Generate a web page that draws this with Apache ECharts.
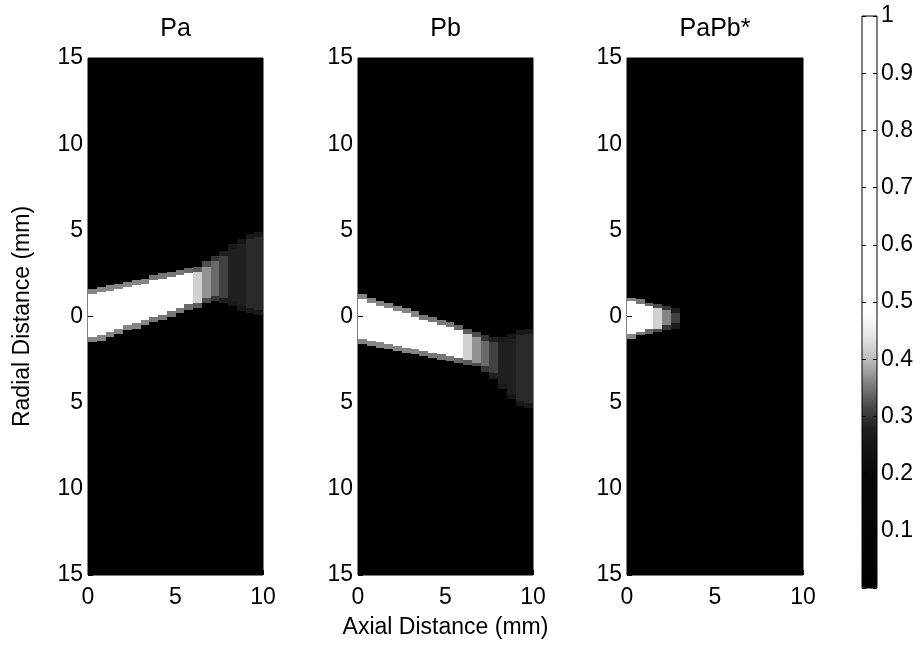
<!DOCTYPE html>
<html>
<head>
<meta charset="utf-8">
<script src="https://cdn.jsdelivr.net/npm/echarts@6/dist/echarts.min.js"></script>
<style>
  html, body { margin: 0; padding: 0; background: #fff; }
  #chart { width: 923px; height: 645px; }
</style>
</head>
<body>
<div id="chart"></div>
<script>
// Axial cell centres (mm); each column is 0.5 mm wide
const axialCols = [0.25, 0.75, 1.25, 1.75, 2.25, 2.75, 3.25, 3.75, 4.25, 4.75,
                   5.25, 5.75, 6.25, 6.75, 7.25, 7.75, 8.25, 8.75, 9.25, 9.75];

// Pa: beam centre (mm), core half-width (mm), core level, rim level per column
const paCentre = [0.02, 0.16, 0.30, 0.45, 0.59, 0.73, 0.87, 1.02, 1.16, 1.30,
                  1.45, 1.59, 1.73, 2.00, 2.20, 2.30, 2.40, 2.40, 2.50, 2.50];
const paHalf   = [1.24, 1.21, 1.18, 1.16, 1.13, 1.10, 1.07, 1.05, 1.02, 0.99,
                  0.96, 0.93, 0.90, 0.90, 1.00, 1.20, 1.50, 1.80, 2.00, 2.10];
const paLevel  = [1.00, 0.98, 0.95, 0.92, 0.88, 0.84, 0.80, 0.75, 0.70, 0.64,
                  0.58, 0.50, 0.42, 0.37, 0.34, 0.31, 0.28, 0.28, 0.29, 0.29];
const paRim    = [0.36, 0.36, 0.36, 0.36, 0.36, 0.36, 0.36, 0.35, 0.35, 0.35,
                  0.35, 0.34, 0.33, 0.32, 0.30, 0.28, 0.26, 0.25, 0.26, 0.26];

// Pb
const pbCentre = [-0.15, -0.28, -0.41, -0.54, -0.67, -0.80, -0.93, -1.06, -1.19, -1.32,
                  -1.45, -1.58, -1.75, -1.95, -2.15, -2.40, -2.70, -2.90, -3.00, -3.00];
const pbHalf   = [1.10, 1.08, 1.05, 1.02, 0.99, 0.96, 0.93, 0.90, 0.87, 0.84,
                  0.81, 0.78, 0.75, 0.70, 0.75, 0.90, 1.20, 1.60, 1.90, 2.00];
const pbLevel  = [1.00, 0.98, 0.95, 0.92, 0.88, 0.84, 0.80, 0.75, 0.70, 0.64,
                  0.58, 0.50, 0.42, 0.37, 0.34, 0.31, 0.28, 0.28, 0.29, 0.29];
const pbRim    = [0.36, 0.36, 0.36, 0.36, 0.36, 0.36, 0.36, 0.35, 0.35, 0.35,
                  0.35, 0.34, 0.33, 0.32, 0.30, 0.28, 0.26, 0.25, 0.26, 0.26];

// PaPb*
const abCentre = [-0.08, -0.08, -0.08, -0.10, -0.10, -0.10, 0, 0, 0, 0,
                  0, 0, 0, 0, 0, 0, 0, 0, 0, 0];
const abHalf   = [0.95, 0.80, 0.65, 0.55, 0.45, 0.30, 0, 0, 0, 0,
                  0, 0, 0, 0, 0, 0, 0, 0, 0, 0];
const abLevel  = [0.90, 0.75, 0.55, 0.42, 0.36, 0.31, 0, 0, 0, 0,
                  0, 0, 0, 0, 0, 0, 0, 0, 0, 0];
const abRim    = [0.36, 0.35, 0.34, 0.32, 0.30, 0.27, 0, 0, 0, 0,
                  0, 0, 0, 0, 0, 0, 0, 0, 0, 0];

const panelTitles = ['Pa', 'Pb', 'PaPb*'];
const colorbarTicks = [0.1, 0.2, 0.3, 0.4, 0.5, 0.6, 0.7, 0.8, 0.9, 1];

const COL_W = 0.5;   // axial cell width (mm)
const ROW_H = 0.1;   // radial cell height (mm)
// Radial cell centres from -15 to 15 mm
const radialRows = Array.from({ length: 300 }, (_, k) => +(-14.95 + ROW_H * k).toFixed(2));

function beamCells(centre, half, level, rim, rimWidth) {
  const cells = [];
  for (let j = 0; j < axialCols.length; j++) {
    if (!level[j]) continue;
    for (let k = 0; k < radialRows.length; k++) {
      const d = Math.abs(radialRows[k] - centre[j]);
      if (d <= half[j]) cells.push([axialCols[j], radialRows[k], level[j]]);
      else if (d <= half[j] + rimWidth) cells.push([axialCols[j], radialRows[k], rim[j]]);
    }
  }
  return cells;
}

// Grey ramp: black up to ~0.2, quick rise to white near 0.48
const greyStops = [[0, 0], [0.2, 0.03], [0.28, 0.12], [0.32, 0.3], [0.36, 0.52],
                   [0.4, 0.74], [0.44, 0.9], [0.48, 1], [1, 1]];
function greyAt(v) {
  for (let i = 1; i < greyStops.length; i++) {
    const [v0, g0] = greyStops[i - 1], [v1, g1] = greyStops[i];
    if (v <= v1) return g0 + (g1 - g0) * (v - v0) / (v1 - v0);
  }
  return 1;
}
const rampColors = Array.from({ length: 101 }, (_, i) => {
  const g = Math.round(greyAt(i / 100) * 255);
  return 'rgb(' + g + ',' + g + ',' + g + ')';
});

// One cell, snapped to whole pixels so neighbouring cells butt together cleanly
function renderCell(params, api) {
  const x = api.value(0), y = api.value(1);
  const p0 = api.coord([x - COL_W / 2, y + ROW_H / 2]);
  const p1 = api.coord([x + COL_W / 2, y - ROW_H / 2]);
  const x0 = Math.round(p0[0]), x1 = Math.round(p1[0]);
  const y0 = Math.round(p0[1]), y1 = Math.round(p1[1]);
  return {
    type: 'rect',
    shape: { x: x0, y: y0, width: x1 - x0, height: Math.max(y1 - y0, 0) },
    style: { fill: api.visual('color'), stroke: null }
  };
}

const FONT = "'Liberation Sans', Arial, Helvetica, sans-serif";
const FS = 23;
const TITLE_FS = 25;
const panelLeft = [88, 358, 627];
const panelWidth = [175, 175, 176];
const panelTop = 58, panelHeight = 517;

const grids = [], xAxes = [], yAxes = [], series = [], graphics = [];
const beams = [
  beamCells(paCentre, paHalf, paLevel, paRim, 0.3),
  beamCells(pbCentre, pbHalf, pbLevel, pbRim, 0.3),
  beamCells(abCentre, abHalf, abLevel, abRim, 0.25)
];

for (let i = 0; i < 3; i++) {
  grids.push({
    left: panelLeft[i], top: panelTop, width: panelWidth[i], height: panelHeight,
    show: true, backgroundColor: '#000', borderColor: '#000', borderWidth: 1,
    containLabel: false, outerBoundsMode: 'none', z: 0
  });
  const xAxis = {
    gridIndex: i, type: 'value', min: 0, max: 10, interval: 5, position: 'bottom',
    axisLine: { show: false, onZero: false }, splitLine: { show: false },
    axisTick: { show: true, inside: true, length: 5, lineStyle: { color: '#000' } },
    axisLabel: { color: '#000', fontSize: FS, fontFamily: FONT, margin: 11 },
    z: 5
  };
  if (i === 1) {
    Object.assign(xAxis, {
      name: 'Axial Distance (mm)', nameLocation: 'middle', nameGap: 41,
      nameTextStyle: { color: '#000', fontSize: FS, fontFamily: FONT }
    });
  }
  xAxes.push(xAxis);
  const yAxis = {
    gridIndex: i, type: 'value', min: -15, max: 15, interval: 5, position: 'left',
    axisLine: { show: false, onZero: false }, splitLine: { show: false },
    axisTick: { show: true, inside: true, length: 5, lineStyle: { color: '#000' } },
    axisLabel: { color: '#000', fontSize: FS, fontFamily: FONT, margin: 5,
                 formatter: v => String(Math.abs(v)) },
    z: 5
  };
  if (i === 0) {
    Object.assign(yAxis, {
      name: 'Radial Distance (mm)', nameLocation: 'middle', nameGap: 54,
      nameTextStyle: { color: '#000', fontSize: FS, fontFamily: FONT }
    });
  }
  yAxes.push(yAxis);
  series.push({
    type: 'custom', coordinateSystem: 'cartesian2d', xAxisIndex: i, yAxisIndex: i,
    dimensions: ['axial', 'radial', 'level'],
    data: beams[i], renderItem: renderCell, silent: true, z: 1
  });
  graphics.push({
    type: 'text', x: panelLeft[i] + panelWidth[i] / 2, y: 29,
    style: { text: panelTitles[i], font: TITLE_FS + 'px ' + FONT, fill: '#000',
             textAlign: 'center', textVerticalAlign: 'middle' }
  });
}

// Colour bar frame and tick labels
grids.push({
  left: 862, top: 16, width: 15, height: 572, show: true,
  backgroundColor: 'transparent', borderColor: '#000', borderWidth: 1,
  containLabel: false, outerBoundsMode: 'none', z: 5
});
xAxes.push({ gridIndex: 3, type: 'value', min: 0, max: 1, show: false });
yAxes.push({
  gridIndex: 3, type: 'value', min: 0, max: 1, interval: 0.1, position: 'right',
  axisLine: { show: false, onZero: false }, splitLine: { show: false },
  axisTick: { show: true, inside: true, length: 4, lineStyle: { color: '#000' } },
  axisLabel: { color: '#000', fontSize: FS, fontFamily: FONT, margin: 4,
               formatter: v => (colorbarTicks.some(t => Math.abs(t - v) < 1e-6) ? String(+v.toFixed(1)) : '') },
  z: 6
});
yAxes.push({
  gridIndex: 3, type: 'value', min: 0, max: 1, interval: 0.1, position: 'left',
  axisLine: { show: false, onZero: false }, splitLine: { show: false },
  axisTick: { show: true, inside: true, length: 4, lineStyle: { color: '#000' } },
  axisLabel: { show: false }, z: 6
});

const chart = echarts.init(document.getElementById('chart'), null, { renderer: 'canvas' });
chart.setOption({
  animation: false,
  backgroundColor: '#fff',
  textStyle: { fontFamily: FONT },
  grid: grids,
  xAxis: xAxes,
  yAxis: yAxes,
  visualMap: {
    type: 'continuous', min: 0, max: 1, dimension: 2, seriesIndex: [0, 1, 2],
    calculable: false, show: true, left: 862, top: 16, padding: 0,
    itemWidth: 15, itemHeight: 572, hoverLink: false,
    inRange: { color: rampColors }, z: 1
  },
  graphic: graphics,
  series: series
});
</script>
</body>
</html>
